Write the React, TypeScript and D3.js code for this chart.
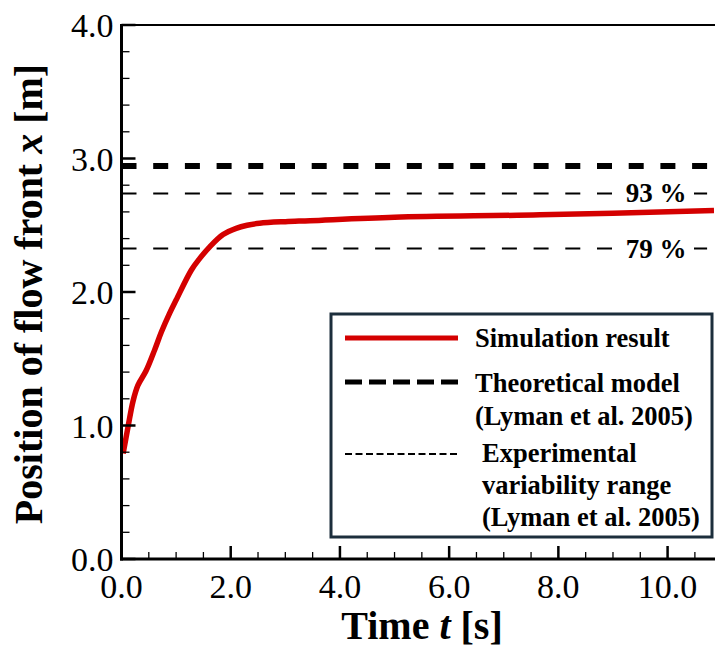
import React from "react";
import * as d3 from "d3";

const simTime = [0.03, 0.12, 0.21, 0.3, 0.45, 0.61, 0.73, 0.88, 1.0, 1.28, 1.43, 1.62, 1.86, 2.1, 2.3, 2.53, 3.0, 3.45, 5.0, 7.66, 10.85];
const simPos = [0.79, 0.99, 1.18, 1.3, 1.41, 1.57, 1.7, 1.84, 1.94, 2.165, 2.25, 2.34, 2.43, 2.477, 2.5, 2.515, 2.527, 2.534, 2.56, 2.578, 2.61];
const theoretical = 2.944;
const rangeLevels = [0.93, 0.79];
const rangeLabels = ["93 %", "79 %"];
const xTicks = [0, 2, 4, 6, 8, 10];
const yTicks = [0, 1, 2, 3, 4];
const legendLabels = [["Simulation result"], ["Theoretical model", "(Lyman et al. 2005)"], ["Experimental", "variability range", "(Lyman et al. 2005)"]];

const FONT = "'Liberation Serif', 'Times New Roman', serif";

export default function App() {
  const W = 715, H = 649;
  const x = d3.scaleLinear().domain([0, 10.85]).range([121.5, 714]);
  const y = d3.scaleLinear().domain([0, 4]).range([559, 25]);
  const x0 = x(0), x1 = W;
  const pts = simTime.map((t, i) => [t, simPos[i]] as [number, number]);
  const line = d3.line<[number, number]>().x(d => x(d[0])).y(d => y(d[1])).curve(d3.curveCatmullRom.alpha(0.5));
  const xMinor = d3.range(0, 10.85, 0.5).filter(v => Math.abs(v % 2) > 1e-6);
  const yMinor = d3.range(0, 4.001, 0.2).filter(v => Math.abs(v - Math.round(v)) > 1e-6);

  return (
    <svg width={W} height={H} style={{ position: "fixed", left: 0, top: 0, background: "#fff" }} fontFamily={FONT}>
      <rect x={0} y={0} width={W} height={H} fill="#fff" />
      {/* curve */}
      <path d={line(pts) || ""} fill="none" stroke="#d40000" strokeWidth={5.5} />
      {/* theoretical line */}
      <line x1={x0} x2={x1} y1={y(theoretical)} y2={y(theoretical)} stroke="#000" strokeWidth={6} strokeDasharray="15 16.7" />
      {rangeLevels.map((r, i) => {
        const yy = y(theoretical * r);
        return (
          <g key={i}>
            <line x1={x0} x2={x1} y1={yy} y2={yy} stroke="#000" strokeWidth={2.2} strokeDasharray="15 16.7" />
            <rect x={618} y={yy - 14} width={76} height={28} fill="#fff" />
            <text x={656} y={yy + 9} textAnchor="middle" fontSize={27} fontWeight="bold">{rangeLabels[i]}</text>
          </g>
        );
      })}
      {/* frame */}
      <line x1={x0} x2={W} y1={y(4)} y2={y(4)} stroke="#000" strokeWidth={2} />
      <line x1={x0} x2={x0} y1={y(4) - 1} y2={y(0) + 1.5} stroke="#000" strokeWidth={3} />
      <line x1={x0 - 1.5} x2={W} y1={y(0)} y2={y(0)} stroke="#000" strokeWidth={3} />
      {/* y ticks */}
      {yTicks.map(v => (
        <g key={"yt" + v}>
          <line x1={x0} x2={x0 + 14} y1={y(v)} y2={y(v)} stroke="#000" strokeWidth={2.5} />
          <text x={x0 - 8} y={y(v) + 12} textAnchor="end" fontSize={34}>{v.toFixed(1)}</text>
        </g>
      ))}
      {yMinor.map(v => (
        <line key={"ym" + v} x1={x0} x2={x0 + 8} y1={y(v)} y2={y(v)} stroke="#000" strokeWidth={1.3} />
      ))}
      {/* x ticks */}
      {xTicks.map(v => (
        <g key={"xt" + v}>
          <line x1={x(v)} x2={x(v)} y1={y(0)} y2={y(0) - 13} stroke="#000" strokeWidth={2.5} />
          <text x={x(v)} y={598} textAnchor="middle" fontSize={34}>{v.toFixed(1)}</text>
        </g>
      ))}
      {xMinor.map(v => (
        <line key={"xm" + v} x1={x(v)} x2={x(v)} y1={y(0)} y2={y(0) - 7} stroke="#000" strokeWidth={1.3} />
      ))}
      {/* axis titles */}
      <text x={422} y={639} textAnchor="middle" fontSize={40} fontWeight="bold">
        Time <tspan fontStyle="italic">t</tspan> [s]
      </text>
      <text transform="translate(42,294) rotate(-90)" textAnchor="middle" fontSize={40} fontWeight="bold">
        Position of flow front <tspan fontStyle="italic">x</tspan> [m]
      </text>
      {/* legend */}
      <rect x={331} y={314} width={381} height={223} fill="#fff" stroke="#1c2e3c" strokeWidth={3} />
      <line x1={345} x2={458} y1={338} y2={338} stroke="#d40000" strokeWidth={5} />
      <line x1={345} x2={458} y1={382} y2={382} stroke="#000" strokeWidth={5} strokeDasharray="17 7" />
      <line x1={345} x2={458} y1={454} y2={454} stroke="#000" strokeWidth={2} strokeDasharray="7 3.5" />
      {legendLabels[0].map((s, i) => (
        <text key={"l0" + i} x={475} y={347} fontSize={26.5} fontWeight="bold">{s}</text>
      ))}
      {legendLabels[1].map((s, i) => (
        <text key={"l1" + i} x={475} y={392 + i * 32.5} fontSize={26.5} fontWeight="bold">{s}</text>
      ))}
      {legendLabels[2].map((s, i) => (
        <text key={"l2" + i} x={482} y={462 + i * 32} fontSize={26.5} fontWeight="bold">{s}</text>
      ))}
    </svg>
  );
}
